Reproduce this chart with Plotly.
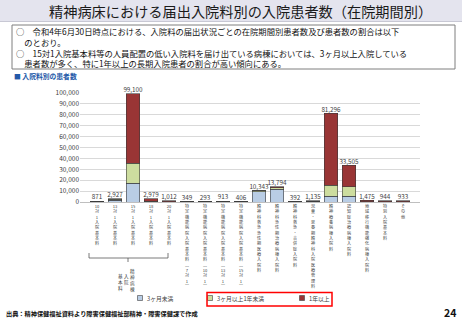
import plotly.graph_objects as go

# ---------------- data ----------------
categories = [
    "10対1入院基本料", "13対1入院基本料", "15対1入院基本料", "18対1入院基本料", "20対1入院基本料",
    "特定機能病院入院基本料（7対1）", "特定機能病院入院基本料（10対1）",
    "特定機能病院入院基本料（13対1）", "特定機能病院入院基本料（15対1）",
    "精神科救急急性期医療入院料", "精神科急性期治療病棟入院料", "精神科救急・合併症入院料",
    "児童・思春期精神科入院医療管理料", "精神療養病棟入院料", "認知症治療病棟入院料",
    "地域移行機能強化病棟入院料", "特別入院基本料", "その他",
]
under_3m = [500, 1700, 17000, 400, 150, 200, 180, 450, 200, 9600, 11800, 250, 600, 5200, 5300, 150, 100, 250]
m3_to_1y = [200, 600, 18500, 400, 150, 80, 60, 200, 100, 500, 1300, 80, 300, 10200, 8600, 250, 150, 200]
over_1y = [171, 627, 63600, 2179, 712, 69, 53, 263, 106, 243, 694, 62, 235, 65896, 19605, 1075, 694, 483]
totals = [871, 2927, 99100, 2979, 1012, 349, 293, 913, 406, 10343, 13794, 392, 1135, 81296, 33505, 1475, 944, 933]
series_names = ["3ヶ月未満", "3ヶ月以上1年未満", "1年以上"]
y_ticks = list(range(0, 100001, 10000))

# ---------------- style ----------------
W, H = 462, 320
L, R, T, B = 80, 42, 93, 118
PW, PH = W - L - R, H - T - B
FONT = "Noto Sans CJK JP"
colors = ["#b9cde5", "#cddd9f", "#993535"]


def px(x):
    return (x - L) / PW


def py(y):
    return (H - B - y) / PH


def vertical(label):
    rep = {"（": "︵", "）": "︶"}
    units, buf = [], ""
    for ch in label:
        if ch.isascii() and ch.isdigit():
            buf += ch
        else:
            if buf:
                units.append(buf)
                buf = ""
            units.append(rep.get(ch, ch))
    if buf:
        units.append(buf)
    return "<br>".join(units)


fig = go.Figure()
for name, vals, col in zip(series_names, [under_3m, m3_to_1y, over_1y], colors):
    fig.add_trace(go.Bar(
        x=categories, y=vals, name=name, marker_color=col,
        marker_line=dict(color="#3a3a3a", width=0.6), showlegend=False,
    ))

fig.add_trace(go.Scatter(
    x=categories, y=totals, mode="text",
    text=[f"{v:,}" for v in totals], textposition="top center",
    textfont=dict(family=FONT, size=6.3, color="#404040"),
    cliponaxis=False, showlegend=False, hoverinfo="skip",
))

fig.update_layout(
    width=W, height=H, barmode="stack", bargap=0.25,
    margin=dict(l=L, r=R, t=T, b=B, autoexpand=False),
    paper_bgcolor="white", plot_bgcolor="white",
    font=dict(family=FONT, color="#000000"),
)
fig.update_xaxes(
    tickvals=categories, ticktext=[vertical(c) for c in categories],
    tickfont=dict(family=FONT, size=4.1, color="#404040"),
    tickangle=0, showline=True, linecolor="#bfbfbf", linewidth=1,
    ticks="", automargin=False,
)
fig.update_yaxes(
    range=[0, 100000], tickvals=y_ticks, tickformat=",",
    tickfont=dict(family=FONT, size=6.5, color="#404040"),
    gridcolor="#d9d9d9", gridwidth=1, zeroline=False, showline=False,
    ticks="", automargin=False,
)

shapes = []
ann = []

# title banner
shapes.append(dict(type="rect", xref="paper", yref="paper", x0=px(0), x1=px(W), y0=py(21), y1=py(0),
                   fillcolor="#e4e4ee", line=dict(width=0), layer="below"))
shapes.append(dict(type="line", xref="paper", yref="paper", x0=px(0), x1=px(W), y0=py(21.5), y1=py(21.5),
                   line=dict(color="#c8c8d4", width=1)))
ann.append(dict(text="精神病床における届出入院料別の入院患者数（在院期間別）", x=px(240), y=py(11.5),
                xref="paper", yref="paper", xanchor="center", yanchor="middle", showarrow=False,
                font=dict(family=FONT, size=14.2, color="#1a1a1a")))

# text box
shapes.append(dict(type="rect", xref="paper", yref="paper", x0=px(12), x1=px(455), y0=py(69), y1=py(25),
                   line=dict(color="#7f7f7f", width=1), fillcolor="white", layer="below"))
body = ("○　令和4年6月30日時点における、入院料の届出状況ごとの在院期間別患者数及び患者数の割合は以下<br>"
        "　のとおり。<br>"
        "○　15対1入院基本料等の人員配置の低い入院料を届け出ている病棟においては、3ヶ月以上入院している<br>"
        "　患者数が多く、特に1年以上の長期入院患者の割合が高い傾向にある。")
ann.append(dict(text=body, x=px(15), y=py(47.5), xref="paper", yref="paper", xanchor="left", align="left",
                yanchor="middle", showarrow=False, borderpad=0,
                font=dict(family=FONT, size=8.3, color="#111111")))

ann.append(dict(text="■ 入院料別の患者数", x=px(12), y=py(76.5), xref="paper", yref="paper",
                xanchor="left", yanchor="middle", showarrow=False,
                font=dict(family=FONT, size=6.8, color="#2459a8", weight="bold")))

# group bracket under first five categories
bx0, bx1, bxm = px(89), px(168), px(128)
yb = py(258)
for s in [
    (bx0, py(253), bx0, yb), (bx0, yb, bx1, yb), (bx1, yb, bx1, py(253)), (bxm, yb, bxm, py(262)),
]:
    shapes.append(dict(type="line", xref="paper", yref="paper", x0=s[0], y0=s[1], x1=s[2], y1=s[3],
                       line=dict(color="#595959", width=0.8)))
for x, y, t in [(132.5, 266, "精<br>神<br>病<br>棟"), (126, 271, "入<br>院"), (120, 270.5, "基<br>本<br>料")]:
    ann.append(dict(text=t, x=px(x), y=py(y), xref="paper", yref="paper", xanchor="center",
                    yanchor="top", showarrow=False, font=dict(family=FONT, size=4.6, color="#404040")))

# legend
leg = [(140, series_names[0]), (210, series_names[1]), (302, series_names[2])]
for (x, name), col in zip(leg, colors):
    shapes.append(dict(type="rect", xref="paper", yref="paper", x0=px(x - 2.5), x1=px(x + 2.5),
                       y0=py(300.5), y1=py(295.5), fillcolor=col, line=dict(color="#404040", width=0.6)))
    ann.append(dict(text=name, x=px(x + 4.5), y=py(298), xref="paper", yref="paper", xanchor="left",
                    yanchor="middle", showarrow=False, font=dict(family=FONT, size=5.8, color="#404040")))
shapes.append(dict(type="rect", xref="paper", yref="paper", x0=px(207), x1=px(332), y0=py(306), y1=py(292.5),
                   line=dict(color="#ff0000", width=1.5)))

# footer
ann.append(dict(text="出典：精神保健福祉資料より障害保健福祉部精神・障害保健課で作成", x=px(4), y=py(313),
                xref="paper", yref="paper", xanchor="left", yanchor="middle", showarrow=False,
                font=dict(family=FONT, size=6.2, color="#111111", weight="bold")))
ann.append(dict(text="24", x=px(458), y=py(312), xref="paper", yref="paper", xanchor="right",
                yanchor="middle", showarrow=False, font=dict(family=FONT, size=10.5, color="#111111", weight="bold")))

fig.update_layout(shapes=shapes, annotations=ann)
fig.write_html("out.html")
